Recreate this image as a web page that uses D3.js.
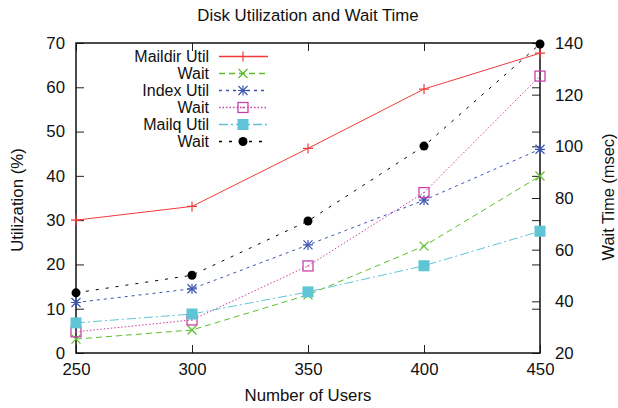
<!DOCTYPE html>
<html>
<head>
<meta charset="utf-8">
<script src="https://cdn.jsdelivr.net/npm/d3@7"></script>
<style>
  body { margin: 0; background: #fff; }
  text { font-family: "Liberation Sans", Arial, Helvetica, sans-serif; fill: #111; }
</style>
</head>
<body>
<svg width="618" height="408"></svg>
<script>
// data
var users = [250, 300, 350, 400, 450];
var maildirUtil = [30.0, 33.1, 46.2, 59.6, 67.7];   // left axis
var maildirWait = [25.4, 28.9, 42.5, 61.4, 88.5];   // right axis
var indexUtil   = [11.4, 14.5, 24.4, 34.5, 46.0];
var indexWait   = [28.2, 32.8, 53.7, 82.1, 127.2];
var mailqUtil   = [6.8, 8.8, 13.8, 19.7, 27.5];
var mailqWait   = [43.3, 50.1, 71.1, 100.1, 139.6];

var xTicks = [250, 300, 350, 400, 450];
var y1Ticks = [0, 10, 20, 30, 40, 50, 60, 70];
var y2Ticks = [20, 40, 60, 80, 100, 120, 140];

// note: "top" is taken by window.top, so plot edges get their own names
var svg = d3.select("svg"),
    pLeft = 76, pRight = 540, pTop = 43, pBottom = 353;
var fs = "16.8px";

var x = d3.scaleLinear().domain([250, 450]).range([pLeft, pRight]);
var y1 = d3.scaleLinear().domain([0, 70]).range([pBottom, pTop]);
var y2 = d3.scaleLinear().domain([20, 140]).range([pBottom, pTop]);

// series: name, values, axis, colour, dash, marker
var series = [
  {name: "Maildir Util", vals: maildirUtil, y: y1, color: "#f23a3a", dash: null, mark: "plus"},
  {name: "Wait", vals: maildirWait, y: y2, color: "#5cbf2a", dash: "6,4", mark: "cross"},
  {name: "Index Util", vals: indexUtil, y: y1, color: "#3a55b0", dash: "3,4", mark: "star"},
  {name: "Wait", vals: indexWait, y: y2, color: "#c843a8", dash: "1.5,2", mark: "box"},
  {name: "Mailq Util", vals: mailqUtil, y: y1, color: "#5fc4d6", dash: "9,3,2,3", mark: "fbox"},
  {name: "Wait", vals: mailqWait, y: y2, color: "#000", dash: "3,7", mark: "dot"}
];

// title and axis labels
svg.append("text").attr("x", 308).attr("y", 21).attr("text-anchor", "middle")
  .style("font-size", fs).text("Disk Utilization and Wait Time");
svg.append("text").attr("x", (pLeft + pRight) / 2).attr("y", 401).attr("text-anchor", "middle")
  .style("font-size", fs).text("Number of Users");
svg.append("text").attr("transform", "translate(23,200) rotate(-90)").attr("text-anchor", "middle")
  .style("font-size", fs).text("Utilization (%)");
svg.append("text").attr("transform", "translate(614,197) rotate(-90)").attr("text-anchor", "middle")
  .style("font-size", "16.4px").text("Wait Time (msec)");

// axes with inward ticks (gnuplot style)
var tl = 8;
var gx = svg.append("g").attr("transform", "translate(0," + pBottom + ")")
  .call(d3.axisBottom(x).tickValues(xTicks).tickSize(-tl).tickPadding(10).tickFormat(d3.format("d")));
var gxt = svg.append("g").attr("transform", "translate(0," + pTop + ")")
  .call(d3.axisTop(x).tickValues(xTicks).tickSize(-tl).tickFormat(""));
var gy = svg.append("g").attr("transform", "translate(" + pLeft + ",0)")
  .call(d3.axisLeft(y1).tickValues(y1Ticks).tickSize(-tl).tickPadding(11));
var gyr = svg.append("g").attr("transform", "translate(" + pRight + ",0)")
  .call(d3.axisRight(y1).tickValues(y1Ticks).tickSize(-tl).tickFormat(""));
var gy2 = svg.append("g").attr("transform", "translate(" + pRight + ",0)")
  .call(d3.axisRight(y2).tickValues(y2Ticks).tickSize(-tl).tickPadding(15));
[gx, gxt, gy, gyr, gy2].forEach(function(g) {
  g.select(".domain").remove();
  g.selectAll("line").attr("stroke", "#222").attr("stroke-width", 1);
  g.selectAll("text").style("font-size", fs).attr("fill", "#111");
});
svg.append("rect").attr("x", pLeft).attr("y", pTop).attr("width", pRight - pLeft).attr("height", pBottom - pTop)
  .attr("fill", "none").attr("stroke", "#111").attr("stroke-width", 1.5);

function drawMark(g, type, cx, cy, color) {
  var s = 5;
  if (type == "plus" || type == "star") {
    g.append("path").attr("d", "M" + (cx - s) + "," + cy + "H" + (cx + s) + "M" + cx + "," + (cy - s) + "V" + (cy + s))
      .attr("stroke", color).attr("stroke-width", 1.2);
  }
  if (type == "cross" || type == "star") {
    var k = s * 0.9;
    g.append("path").attr("d", "M" + (cx - k) + "," + (cy - k) + "L" + (cx + k) + "," + (cy + k) +
      "M" + (cx - k) + "," + (cy + k) + "L" + (cx + k) + "," + (cy - k))
      .attr("stroke", color).attr("stroke-width", 1.2);
  }
  if (type == "box") {
    g.append("rect").attr("x", cx - 5).attr("y", cy - 5).attr("width", 10).attr("height", 10)
      .attr("fill", "none").attr("stroke", color).attr("stroke-width", 1.3);
    g.append("circle").attr("cx", cx).attr("cy", cy).attr("r", 0.8).attr("fill", color);
  }
  if (type == "fbox") {
    g.append("rect").attr("x", cx - 5.5).attr("y", cy - 5.5).attr("width", 11).attr("height", 11)
      .attr("fill", color);
  }
  if (type == "dot") {
    g.append("circle").attr("cx", cx).attr("cy", cy).attr("r", 4.5).attr("fill", color);
  }
}

var line = d3.line();
var plot = svg.append("g");
series.forEach(function(s) {
  var pts = s.vals.map(function(v, i) { return [x(users[i]), s.y(v)]; });
  plot.append("path").attr("d", line(pts)).attr("fill", "none")
    .attr("stroke", s.color).attr("stroke-width", 1)
    .attr("stroke-dasharray", s.dash);
  pts.forEach(function(p) { drawMark(plot, s.mark, p[0], p[1], s.color); });
});

// legend (rows are tight, as in the original)
var leg = svg.append("g");
series.forEach(function(s, i) {
  var cy = 56.5 + i * 17;
  leg.append("text").attr("x", 209).attr("y", cy + 5.5).attr("text-anchor", "end")
    .style("font-size", "16px").text(s.name);
  leg.append("line").attr("x1", 219).attr("x2", 268).attr("y1", cy).attr("y2", cy)
    .attr("stroke", s.color).attr("stroke-width", 1.3).attr("stroke-dasharray", s.dash);
  drawMark(leg, s.mark, 243, cy, s.color);
});
</script>
</body>
</html>
